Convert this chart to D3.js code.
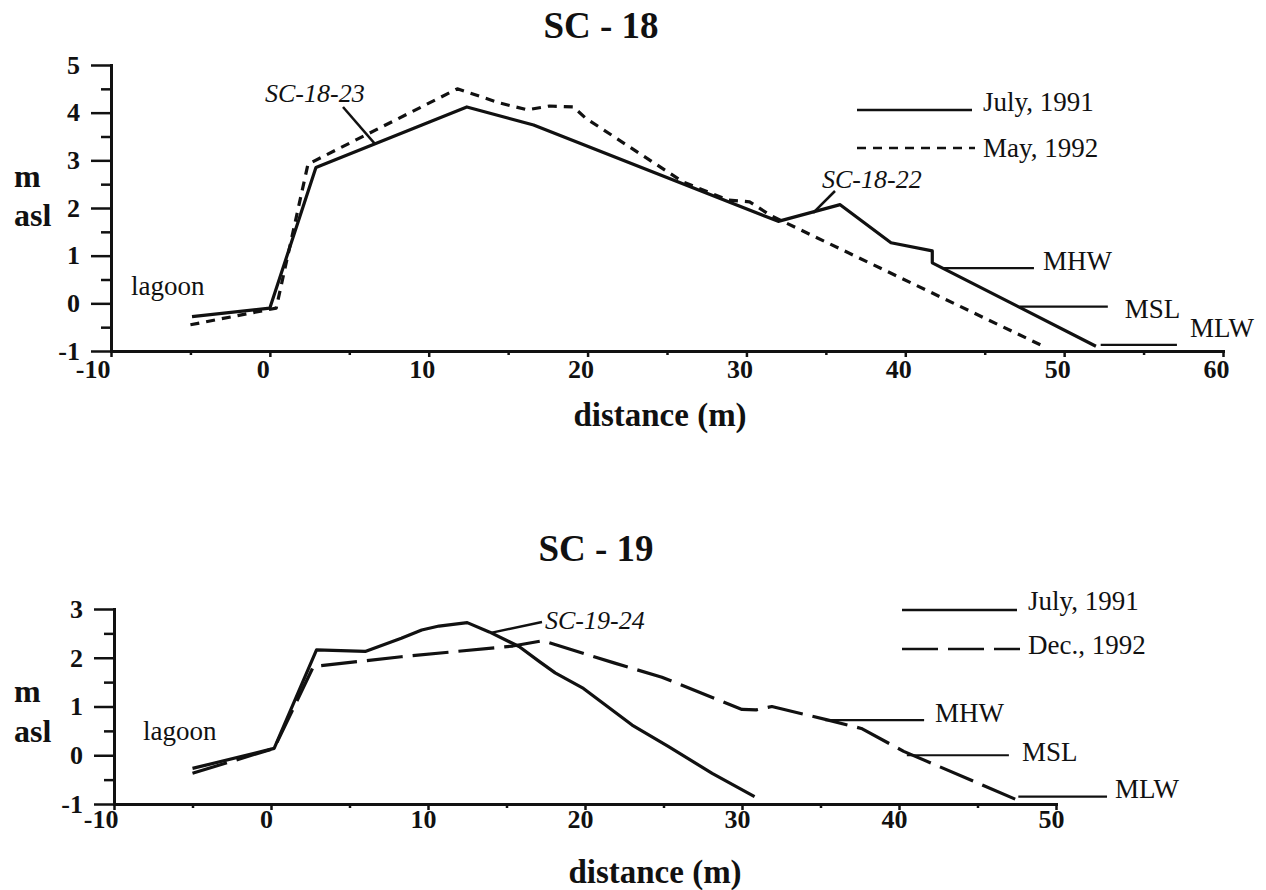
<!DOCTYPE html>
<html>
<head>
<meta charset="utf-8">
<script src="https://cdn.jsdelivr.net/npm/d3@7"></script>
<style>
  html, body { margin: 0; padding: 0; background: #fff; }
  svg text { font-family: "Liberation Serif", "Times New Roman", serif; fill: #111; }
</style>
</head>
<body>
<svg id="chart" width="1266" height="890"></svg>
<script>
// ---- Profile SC-18: [distance (m), elevation (m asl)] ----
const sc18July1991 = [[-4.9,-0.28],[0,-0.1],[2.9,2.85],[12.4,4.12],[16.6,3.74],[32.0,1.72],
  [35.9,2.07],[39.1,1.27],[41.7,1.1],[41.7,0.85],[52.0,-0.9]];
const sc18May1992 = [[-5.0,-0.45],[0.4,-0.1],[2.4,2.92],[11.8,4.5],[14.5,4.2],[16.2,4.06],
  [17.6,4.14],[19.1,4.12],[19.9,3.88],[26.0,2.55],[28.8,2.17],[30.2,2.13],[31.5,1.85],
  [32.1,1.75],[48.5,-0.87]];

// ---- Profile SC-19 ----
const sc19July1991 = [[-5.0,-0.27],[0.2,0.14],[2.9,2.16],[6.0,2.13],[8.3,2.4],[9.6,2.57],
  [10.7,2.65],[12.5,2.72],[13.9,2.53],[15.8,2.23],[17.1,1.92],[18.1,1.69],[19.9,1.37],
  [23.0,0.62],[25.3,0.18],[28.1,-0.37],[30.8,-0.85]];
const sc19Dec1992 = [[-5.0,-0.37],[0.2,0.14],[2.7,1.82],[8.3,2.02],[15.4,2.24],[17.3,2.35],
  [21.9,1.89],[24.9,1.6],[30.0,0.94],[30.9,0.93],[31.9,1.0],[35.5,0.72],[37.6,0.55],
  [40.3,0.08],[47.4,-0.9]];

// ---- Tidal datums ----
const tideNames = ["MHW", "MSL", "MLW"];
const sc18TideLevels = [0.74, -0.07, -0.87];
const sc18TideSpans = [[42.4, 48.1], [47.2, 52.75], [52.3, 57.1]];
const sc19TideLevels = [0.72, 0.0, -0.85];
const sc19TideSpans = [[35.3, 41.6], [40.5, 47.0], [47.6, 53.25]];

// ---- Ticks ----
const sc18XTicks = [-10, 0, 10, 20, 30, 40, 50, 60];
const sc18XMinor = [-5, 5, 15, 25, 35, 45, 55];
const sc18YTicks = [-1, 0, 1, 2, 3, 4, 5];
const sc18YMinor = [-0.5, 0.5, 1.5, 2.5, 3.5, 4.5];
const sc19XTicks = [-10, 0, 10, 20, 30, 40, 50];
const sc19XMinor = [-5, 5, 15, 25, 35, 45];
const sc19YTicks = [-1, 0, 1, 2, 3];
const sc19YMinor = [-0.5, 0.5, 1.5, 2.5];

const svg = d3.select("#chart");
const INK = "#111";

function drawPanel(p) {
  const g = svg.append("g");
  const x = p.x, y = p.y;
  const x0 = x.range()[0], yBase = y.range()[0];

  // title
  g.append("text").attr("x", p.titleX).attr("y", p.titleY).attr("text-anchor", "middle")
    .attr("font-size", 37).attr("font-weight", "bold").text(p.title);

  // axes
  const styleAxis = sel => {
    sel.select(".domain").attr("stroke", INK).attr("stroke-width", 3).attr("stroke-linecap", "square");
    sel.selectAll(".tick line").attr("stroke", INK).attr("stroke-width", 2.5);
    sel.selectAll("text").attr("font-size", 26).attr("font-weight", "bold").attr("fill", INK)
      .attr("font-family", "Liberation Serif, serif");
  };

  g.append("g").attr("transform", `translate(0,${yBase})`)
    .call(d3.axisBottom(x).tickValues(p.xMinor).tickSize(4).tickSizeOuter(0).tickFormat(""))
    .call(styleAxis);
  const xa = g.append("g").attr("transform", `translate(0,${yBase})`)
    .call(d3.axisBottom(x).tickValues(p.xTicks).tickSize(6).tickSizeOuter(0).tickFormat(d => String(d)))
    .call(styleAxis);
  xa.selectAll(".tick text")
    .attr("y", p.xLabelBaseline).attr("dy", 0)
    .attr("dx", d => d === -10 ? p.minusTenDx : p.xLabelDx)
    .attr("text-anchor", d => d === -10 ? "end" : "middle");

  g.append("g").attr("transform", `translate(${x0},0)`)
    .call(d3.axisLeft(y).tickValues(p.yMinor).tickSize(10).tickSizeOuter(0).tickFormat(""))
    .call(styleAxis);
  g.append("g").attr("transform", `translate(${x0},0)`)
    .call(d3.axisLeft(y).tickValues(p.yTicks).tickSize(20).tickPadding(11).tickSizeOuter(0).tickFormat(d => String(d)))
    .call(styleAxis);

  // axis titles
  g.append("text").attr("x", p.xTitleX).attr("y", p.xTitleY).attr("text-anchor", "middle")
    .attr("font-size", 33).attr("font-weight", "bold").text("distance (m)");
  g.append("text").attr("x", 14).attr("y", p.mY).attr("font-size", 32).attr("font-weight", "bold").text("m");
  g.append("text").attr("x", 14).attr("y", p.aslY).attr("font-size", 32).attr("font-weight", "bold").text("asl");
  g.append("text").attr("x", p.lagoonX).attr("y", p.lagoonY).attr("font-size", 27).text("lagoon");

  // tidal datum lines and labels
  p.tideLevels.forEach((lv, i) => {
    const [a, b] = p.tideSpans[i];
    g.append("line").attr("x1", x(a)).attr("x2", x(b)).attr("y1", y(lv)).attr("y2", y(lv))
      .attr("stroke", INK).attr("stroke-width", 2.2);
    g.append("text").attr("x", x(b) + p.tideLabelOffsets[i][0]).attr("y", y(lv) + p.tideLabelOffsets[i][1])
      .attr("font-size", 27).text(tideNames[i]);
  });

  // profiles
  const line = d3.line().x(d => x(d[0])).y(d => y(d[1]));
  g.append("path").datum(p.later).attr("d", line).attr("fill", "none").attr("stroke", INK)
    .attr("stroke-width", 3.2).attr("stroke-dasharray", p.dash).attr("stroke-linejoin", "round");
  g.append("path").datum(p.earlier).attr("d", line).attr("fill", "none").attr("stroke", INK)
    .attr("stroke-width", 3.2).attr("stroke-linejoin", "round");

  // station labels with leader lines
  p.stations.forEach(s => {
    g.append("line").attr("x1", s.from[0]).attr("y1", s.from[1])
      .attr("x2", x(s.at[0])).attr("y2", y(s.at[1]))
      .attr("stroke", INK).attr("stroke-width", 2.5);
    g.append("text").attr("x", s.tx).attr("y", s.ty).attr("font-size", 26)
      .attr("font-style", "italic").text(s.text);
  });

  // legend
  const lg = g.append("g");
  lg.append("line").attr("x1", p.legendX).attr("x2", p.legendX + 115)
    .attr("y1", p.legendY[0]).attr("y2", p.legendY[0]).attr("stroke", INK).attr("stroke-width", 2.5);
  lg.append("text").attr("x", p.legendX + 126).attr("y", p.legendY[0] + p.legendTextDy[0])
    .attr("font-size", 27).text(p.legendNames[0]);
  lg.append("line").attr("x1", p.legendX).attr("x2", p.legendX + 118)
    .attr("y1", p.legendY[1]).attr("y2", p.legendY[1]).attr("stroke", INK).attr("stroke-width", 2.5)
    .attr("stroke-dasharray", p.dash);
  lg.append("text").attr("x", p.legendX + 126).attr("y", p.legendY[1] + p.legendTextDy[1])
    .attr("font-size", 27).text(p.legendNames[1]);
}

drawPanel({
  title: "SC - 18", titleX: 601, titleY: 38,
  x: d3.scaleLinear().domain([-10, 60]).range([111, 1223]),
  y: d3.scaleLinear().domain([-1, 5]).range([351, 65]),
  xTicks: sc18XTicks, xMinor: sc18XMinor, yTicks: sc18YTicks, yMinor: sc18YMinor,
  xLabelBaseline: 27, xLabelDx: -7, minusTenDx: -1,
  xTitleX: 660, xTitleY: 426, mY: 187, aslY: 226, lagoonX: 131, lagoonY: 295,
  tideLevels: sc18TideLevels, tideSpans: sc18TideSpans,
  tideLabelOffsets: [[9, 2], [17, 11], [13, -8]],
  earlier: sc18July1991, later: sc18May1992, dash: "9,7",
  stations: [
    { text: "SC-18-23", tx: 265, ty: 102, from: [343, 107], at: [6.6, 3.35] },
    { text: "SC-18-22", tx: 822, ty: 188, from: [835, 191], at: [34.2, 1.9] }
  ],
  legendX: 857, legendY: [110, 148], legendTextDy: [1, 9],
  legendNames: ["July, 1991", "May, 1992"]
});

drawPanel({
  title: "SC - 19", titleX: 596, titleY: 561,
  x: d3.scaleLinear().domain([-10, 50]).range([114, 1056]),
  y: d3.scaleLinear().domain([-1, 3]).range([804, 609]),
  xTicks: sc19XTicks, xMinor: sc19XMinor, yTicks: sc19YTicks, yMinor: sc19YMinor,
  xLabelBaseline: 24, xLabelDx: -5, minusTenDx: 4,
  xTitleX: 655, xTitleY: 883, mY: 702, aslY: 742, lagoonX: 143, lagoonY: 740,
  tideLevels: sc19TideLevels, tideSpans: sc19TideSpans,
  tideLabelOffsets: [[11, 2], [13, 6], [8, 1]],
  earlier: sc19July1991, later: sc19Dec1992, dash: "36,10",
  stations: [
    { text: "SC-19-24", tx: 545, ty: 629, from: [542, 622], at: [14.0, 2.51] }
  ],
  legendX: 902, legendY: [610, 649], legendTextDy: [0, 5],
  legendNames: ["July, 1991", "Dec., 1992"]
});
</script>
</body>
</html>
